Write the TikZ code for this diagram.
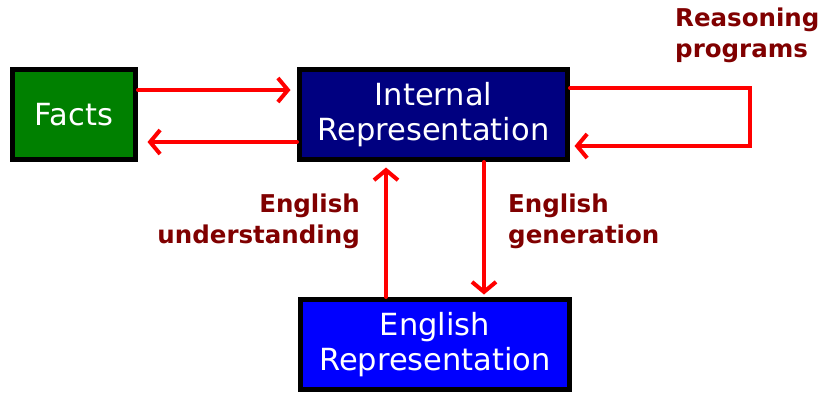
\documentclass[tikz,border=0pt]{standalone}
\usepackage{fontspec}
\setmainfont{DejaVu Sans}
\usetikzlibrary{arrows.meta}
\definecolor{factgreen}{RGB}{0,128,0}
\definecolor{internalnavy}{RGB}{0,0,128}
\definecolor{englishblue}{RGB}{0,0,255}
\definecolor{labelred}{RGB}{128,0,0}
\tikzset{
  block/.style={draw=black, line width=5pt, text=white, align=center,
    minimum height=90pt, inner sep=0pt, font=\fontsize{30.5}{35}\selectfont},
  flow/.style={draw=red, line width=4pt, line cap=round, line join=miter,
    -{Straight Barb[length=10pt, width=24pt, line width=4pt]}},
  tag/.style={text=labelred, inner sep=0pt, font=\fontsize{24.5}{31}\selectfont\bfseries}
}

\begin{document}
\begin{tikzpicture}[x=1pt, y=-1pt]
	%%%%% START %%%%%
	\useasboundingbox (0, 0) rectangle (821, 392);
	
	\node[block, fill=factgreen, minimum width=123pt] (facts) at (74, 114.5) {Facts};
	\node[block, fill=internalnavy, minimum width=268pt] (internal) at (433.5, 114.5) {Internal\\Representation};
	\node[block, fill=englishblue, minimum width=269pt] (english) at (435, 344.5) {English\\Representation};
	
	\draw[flow, shorten >=6.5pt] ([yshift=24.5pt]facts.east) -- ([yshift=24.5pt]facts.east -| internal.west);
	\draw[flow, shorten >=9.5pt] ([yshift=-27.5pt]internal.west) -- ([yshift=-27.5pt]internal.west -| facts.east);
	
	\coordinate (loopright) at (750, 0);
	\draw[flow, shorten >=4.5pt] ([yshift=26.5pt]internal.east) -| (loopright |- 0,146) -- ([yshift=-31.5pt]internal.east);
	
	\draw[flow, shorten >=5.5pt] ([xshift=-49pt]english.north) -- ([xshift=-47.5pt]internal.south);
	\draw[flow, shorten >=2.5pt] ([xshift=50.5pt]internal.south) -- ([xshift=49pt]english.north);
	
	\node[tag, anchor=north west, align=left] (reasoning) at (675, 8) {Reasoning\\programs};
	\node[tag, anchor=east, align=right] (understanding) at (360, 221) {English\\understanding};
	\node[tag, anchor=west, align=left] (generation) at (508, 221) {English\\generation};
	
	%%%%% END %%%%%
\end{tikzpicture}
\end{document}
